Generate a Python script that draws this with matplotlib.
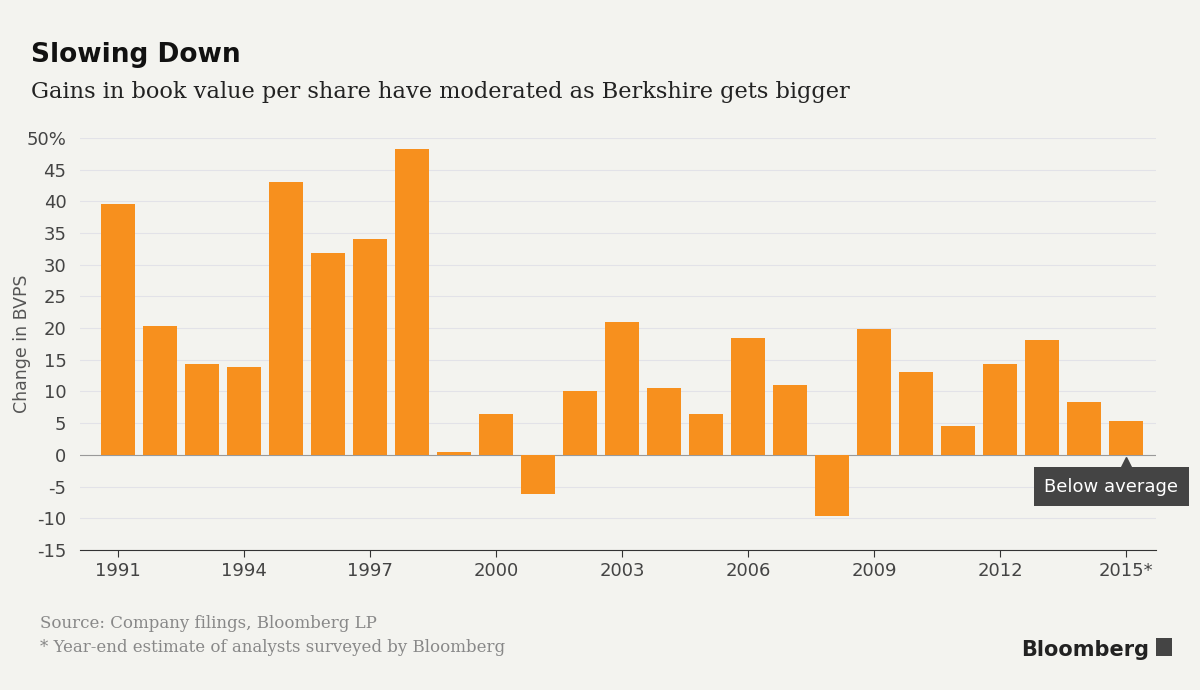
import matplotlib.pyplot as plt
from matplotlib.patches import Rectangle

years = list(range(1991, 2016))
change = [39.6, 20.3, 14.3, 13.9, 43.1, 31.8, 34.1, 48.3, 0.5, 6.5, -6.2, 10.0, 21.0,
          10.5, 6.4, 18.4, 11.0, -9.6, 19.8, 13.0, 4.6, 14.4, 18.2, 8.3, 5.4]
tick_years = [1991, 1994, 1997, 2000, 2003, 2006, 2009, 2012, 2015]
tick_labels = ["1991", "1994", "1997", "2000", "2003", "2006", "2009", "2012", "2015*"]
y_ticks = [50, 45, 40, 35, 30, 25, 20, 15, 10, 5, 0, -5, -10, -15]

bg = "#f3f3ef"
fig = plt.figure(figsize=(12, 6.9), dpi=100, facecolor=bg)
ax = fig.add_axes([0.067, 0.203, 0.896, 0.597], facecolor=bg)

ax.bar(years, change, width=0.8, color="#f7901e", zorder=3)
ax.set_xlim(1991 - 0.9, 2015 + 0.7)
ax.set_ylim(-15, 50)

ax.set_yticks(y_ticks)
ax.set_yticklabels(["50%"] + [str(v) for v in y_ticks[1:]])
ax.grid(axis="y", color="#e2e2e8", linewidth=0.8, zorder=0)
ax.axhline(0, color="#999999", linewidth=0.8, zorder=2)
for s in ["top", "right", "left"]:
    ax.spines[s].set_visible(False)
ax.spines["bottom"].set_color("#333333")
ax.tick_params(axis="y", length=0, labelsize=13, labelcolor="#444444", pad=10)
ax.set_xticks(tick_years)
ax.set_xticklabels(tick_labels)
ax.tick_params(axis="x", length=5, labelsize=13, labelcolor="#444444", color="#333333")
ax.set_ylabel("Change in BVPS", fontsize=12.5, color="#555555", labelpad=-12)
ax.yaxis.set_label_coords(-0.046, 0.5)

# annotation
ax.plot([2015], [-1.3], marker="^", color="#444444", markersize=9, zorder=4)
ax.text(2014.65, -5.0, "Below average", ha="center", va="center", fontsize=13,
        color="white", zorder=5,
        bbox=dict(boxstyle="square,pad=0.6", fc="#444444", ec="none"))

fig.text(0.026, 0.91, "Slowing Down", fontsize=19, fontweight="bold", color="#111111")
fig.text(0.026, 0.858, "Gains in book value per share have moderated as Berkshire gets bigger",
         fontsize=16.2, family="DejaVu Serif", color="#222222")
fig.text(0.033, 0.09, "Source: Company filings, Bloomberg LP", fontsize=12,
         family="DejaVu Serif", color="#888888")
fig.text(0.033, 0.055, "* Year-end estimate of analysts surveyed by Bloomberg", fontsize=12,
         family="DejaVu Serif", color="#888888")
fig.text(0.958, 0.05, "Bloomberg", fontsize=15, fontweight="bold", color="#222222", ha="right")
fig.patches.append(Rectangle((0.963, 0.05), 0.014, 0.025, transform=fig.transFigure,
                             fc="#444444", ec="none"))

fig.savefig("out.png", dpi=100, facecolor=bg)
